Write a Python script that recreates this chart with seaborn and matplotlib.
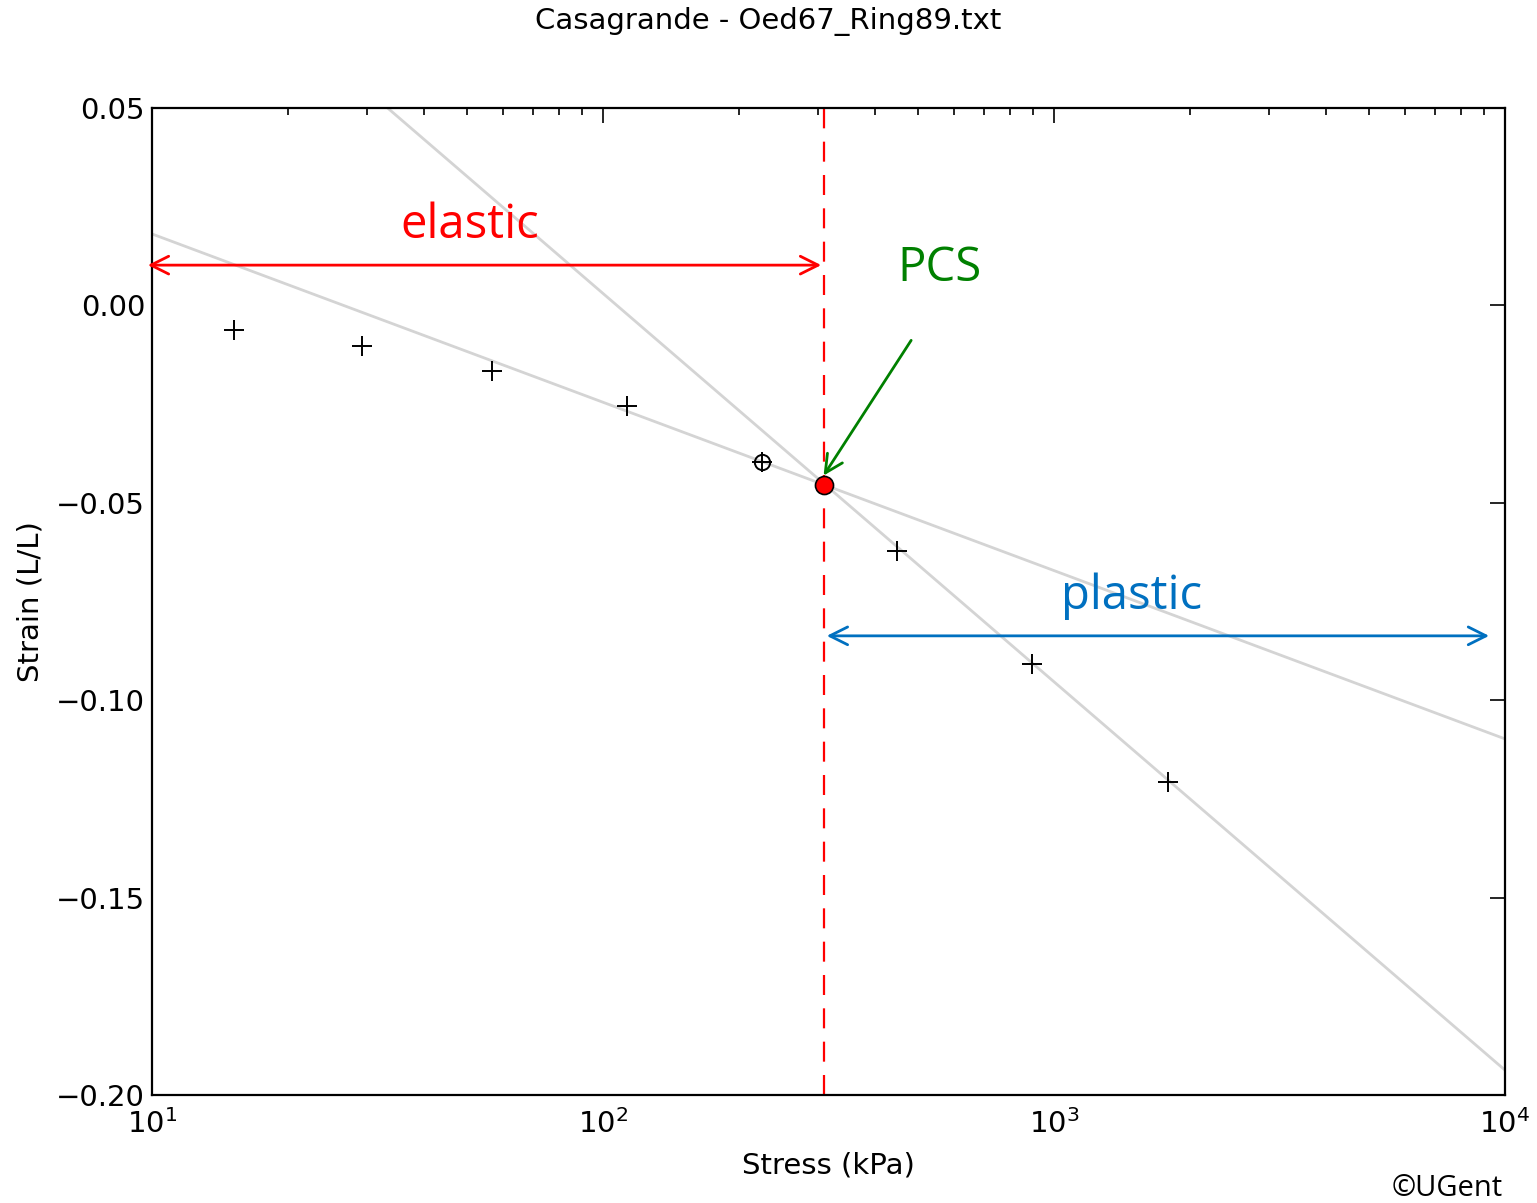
import matplotlib
matplotlib.use("Agg")
import matplotlib.pyplot as plt
import seaborn as sns
import pandas as pd
import numpy as np

# ---- data ----
stress = [15.2, 29.2, 56.7, 113, 225, 449, 894, 1789]
strain = [-0.0062, -0.0103, -0.0166, -0.0255, -0.0397, -0.0622, -0.0908, -0.1207]
elastic_fit_x = [10, 10000]
elastic_fit_y = [0.0181, -0.1098]
plastic_fit_x = [33.3, 10000]
plastic_fit_y = [0.05, -0.1937]
pcs_stress = 309
pcs_strain = -0.0455
highlight_stress = [225]
highlight_strain = [-0.0397]

sns.set_style("white")
plt.rcParams['font.family'] = ['DejaVu Sans']
plt.rcParams['text.color'] = 'black'
plt.rcParams['axes.labelcolor'] = 'black'
plt.rcParams['xtick.color'] = 'black'
plt.rcParams['ytick.color'] = 'black'

fig = plt.figure(figsize=(15.37, 12.03), dpi=100)
ax = fig.add_axes([152/1537, 1 - 1095/1203, (1505-152)/1537, (1095-108)/1203])

df_pts = pd.DataFrame({"stress": stress, "strain": strain})
df_el = pd.DataFrame({"x": elastic_fit_x, "y": elastic_fit_y})
df_pl = pd.DataFrame({"x": plastic_fit_x, "y": plastic_fit_y})

sns.lineplot(data=df_el, x="x", y="y", ax=ax, color="#d4d4d4", linewidth=2, zorder=1)
sns.lineplot(data=df_pl, x="x", y="y", ax=ax, color="#d4d4d4", linewidth=2, zorder=1)
ax.plot(df_pts["stress"], df_pts["strain"], linestyle="none", marker="+",
        color="black", markersize=14, markeredgewidth=1.4, zorder=3)
ax.plot(highlight_stress, highlight_strain, linestyle="none", marker="o",
        markerfacecolor="none", markeredgecolor="black", markersize=11,
        markeredgewidth=1.4, zorder=3)
ax.axvline(pcs_stress, color="red", linestyle=(0, (9, 6)), linewidth=1.6, zorder=2)
ax.plot([pcs_stress], [pcs_strain], linestyle="none", marker="o",
        markerfacecolor="red", markeredgecolor="black", markersize=13,
        markeredgewidth=1.2, zorder=4)

ax.set_xscale("log")
ax.set_xlim(10, 10000)
ax.set_ylim(-0.2, 0.05)
ax.set_yticks([-0.2, -0.15, -0.1, -0.05, 0.0, 0.05])
ax.set_yticklabels(["\u22120.20", "\u22120.15", "\u22120.10", "\u22120.05", "0.00", "0.05"])
ax.tick_params(which="both", direction="in", top=True, right=True, labelsize=21)
ax.tick_params(which="major", length=11, width=1.2)
ax.tick_params(which="minor", length=5, width=1.2)
ax.tick_params(axis="x", which="both", pad=10)
ax.tick_params(axis="y", which="both", pad=5)
ax.tick_params(axis="y", which="minor", left=False, right=False)
for s in ax.spines.values():
    s.set_linewidth(1.6)
    s.set_color("black")

ax.set_xlabel("Stress (kPa)", fontsize=21, labelpad=9)
ax.set_ylabel("Strain (L/L)", fontsize=21, labelpad=8)
fig.text(0.5, 1 - 22/1203, "Casagrande - Oed67_Ring89.txt", ha="center", va="center", fontsize=21)

# annotations
ax.annotate("", xy=(9.65, 0.0102), xytext=(pcs_stress, 0.0102),
            arrowprops=dict(arrowstyle="<->", color="red", lw=2, mutation_scale=32),
            annotation_clip=False)
ax.annotate("", xy=(pcs_stress, -0.0837), xytext=(9353, -0.0837),
            arrowprops=dict(arrowstyle="<->", color="#0070C0", lw=2, mutation_scale=32),
            annotation_clip=False)
ax.annotate("", xy=(306, -0.0437), xytext=(486, -0.00826),
            arrowprops=dict(arrowstyle="->", color="green", lw=2, mutation_scale=32))
ax.text(50.7, 0.0204, "elastic", color="red", fontsize=34, ha="center", va="center",
        family=["Open Sans", "DejaVu Sans"])
ax.text(1489, -0.0736, "plastic", color="#0070C0", fontsize=34, ha="center", va="center",
        family=["Open Sans", "DejaVu Sans"])
ax.text(558, 0.0095, "PCS", color="green", fontsize=34, ha="center", va="center",
        family=["Open Sans", "DejaVu Sans"])
fig.text(1447/1537, 1 - 1188/1203, "\u00a9UGent", ha="center", va="center", fontsize=21,
         family=["Open Sans", "DejaVu Sans"])

fig.savefig("out.png", dpi=100, facecolor="white")
